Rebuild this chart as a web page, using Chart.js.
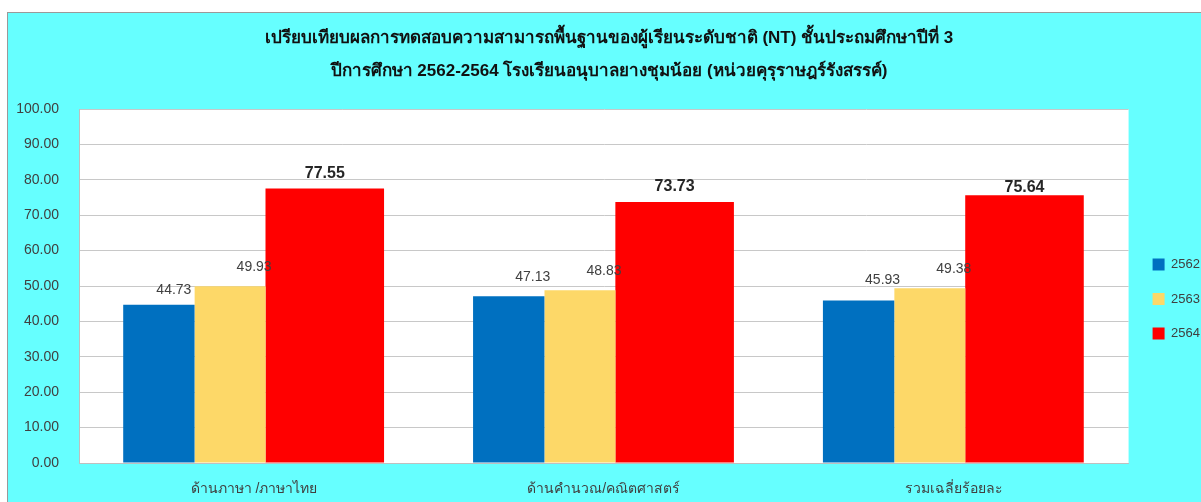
<!DOCTYPE html>
<html><head><meta charset="utf-8">
<script src="https://cdn.jsdelivr.net/npm/chart.js@4/dist/chart.umd.min.js"></script>
<style>
html,body{margin:0;padding:0;background:#fff;overflow:hidden;width:1201px;height:502px;}
#wrap{position:absolute;left:7px;top:12px;width:1202px;height:489px;background:#66FFFF;border-top:1px solid #9a9a9a;border-left:1px solid #9a9a9a;}
canvas{display:block;}
</style></head><body>
<div id="wrap"><canvas id="c" width="1202" height="489"></canvas></div>
<script>
const titleLines = ['เปรียบเทียบผลการทดสอบความสามารถพื้นฐานของผู้เรียนระดับชาติ (NT) ชั้นประถมศึกษาปีที่ 3',
                    'ปีการศึกษา 2562-2564 โรงเรียนอนุบาลยางชุมน้อย (หน่วยคุรุราษฎร์รังสรรค์)'];
const categories = ['ด้านภาษา /ภาษาไทย', 'ด้านคำนวณ/คณิตศาสตร์', 'รวมเฉลี่ยร้อยละ'];
const seriesNames = ['2562', '2563', '2564'];
const v2562 = [44.73, 47.13, 45.93];
const v2563 = [49.93, 48.83, 49.38];
const v2564 = [77.55, 73.73, 75.64];
const yMin = 0, yMax = 100, yStep = 10;

const FONT = "Tahoma, 'Liberation Sans', 'Noto Sans', sans-serif";
// label offsets (style): [dx, dy above bar top] per dataset per category
const labelOffsets = [
  [[15, 15], [24, 19], [24, 20]],
  [[24, 19], [24, 19], [24, 19]],
  [[0, 14.5], [0, 15], [0, 7.5]]
];

const plotBg = {
  id: 'plotBg',
  beforeDraw(chart) {
    const {ctx, chartArea: a} = chart;
    ctx.save(); ctx.fillStyle = '#ffffff';
    ctx.fillRect(a.left, a.top, a.right - a.left, a.bottom - a.top);
    ctx.restore();
  }
};
const valueLabels = {
  id: 'valueLabels',
  afterDatasetsDraw(chart) {
    const ctx = chart.ctx;
    const map = [0, 1, 3];
    map.forEach((di, s) => {
      const meta = chart.getDatasetMeta(di);
      meta.data.forEach((el, i) => {
        const val = chart.data.datasets[di].data[i];
        const [dx, dy] = labelOffsets[s][i];
        ctx.save();
        ctx.textAlign = 'center'; ctx.textBaseline = 'middle';
        if (s === 2) { ctx.font = "bold 16px " + FONT; ctx.fillStyle = '#262626'; }
        else { ctx.font = "14px " + FONT; ctx.fillStyle = '#404040'; }
        ctx.fillText(val.toFixed(2), el.x + dx, el.y - dy);
        ctx.restore();
      });
    });
  }
};

new Chart(document.getElementById('c'), {
  type: 'bar',
  data: {
    labels: categories,
    datasets: [
      {label: seriesNames[0], data: v2562, backgroundColor: '#0070C0', categoryPercentage: 0.7245, barPercentage: 1.126},
      {label: seriesNames[1], data: v2563, backgroundColor: '#FDD868', categoryPercentage: 0.5445, barPercentage: 1.49},
      {label: '_gap', data: [], backgroundColor: 'rgba(0,0,0,0)'},
      {label: seriesNames[2], data: v2564, backgroundColor: '#FF0000', categoryPercentage: 0.540, barPercentage: 2.51}
    ]
  },
  options: {
    responsive: false, animation: false, devicePixelRatio: 1,
    layout: {padding: {left: 0, right: 0, top: 0, bottom: 0}},
    plugins: {
      title: {display: true, text: titleLines, color: '#111111',
        font: {family: FONT, size: 17, weight: 'bold', lineHeight: 33/17},
        padding: {top: 8.5, bottom: 21.5}},
      legend: {position: 'right', fullSize: false,
        title: {display: true, text: '', padding: {top: 11.6, bottom: 0}, font: {size: 12, lineHeight: 1.2}},
        labels: {boxWidth: 12, boxHeight: 12, padding: 21.5, color: '#404040',
          font: {family: FONT, size: 13},
          filter: (item) => item.text !== '_gap'}},
      tooltip: {enabled: false}
    },
    scales: {
      x: {
        grid: {display: false, drawTicks: false},
        border: {display: true, color: '#BFBFBF'},
        ticks: {color: '#404040', font: {family: FONT, size: 14}, padding: 18, maxRotation: 0},
        afterFit(s) { s.height = 39; }
      },
      y: {
        min: yMin, max: yMax,
        grid: {color: '#C8C8C8', drawTicks: false},
        border: {display: true, color: '#BFBFBF'},
        ticks: {stepSize: yStep, color: '#404040', font: {family: FONT, size: 14}, padding: 20,
          callback: (v) => Number(v).toFixed(2)},
        afterFit(s) { s.width = 71; }
      },
      gapRight: {
        type: 'linear', position: 'right', display: true,
        grid: {display: false, drawTicks: false}, border: {display: false},
        ticks: {display: false},
        afterFit(s) { s.width = 2.5; }
      }
    }
  },
  plugins: [plotBg, valueLabels]
});
</script>
</body></html>
